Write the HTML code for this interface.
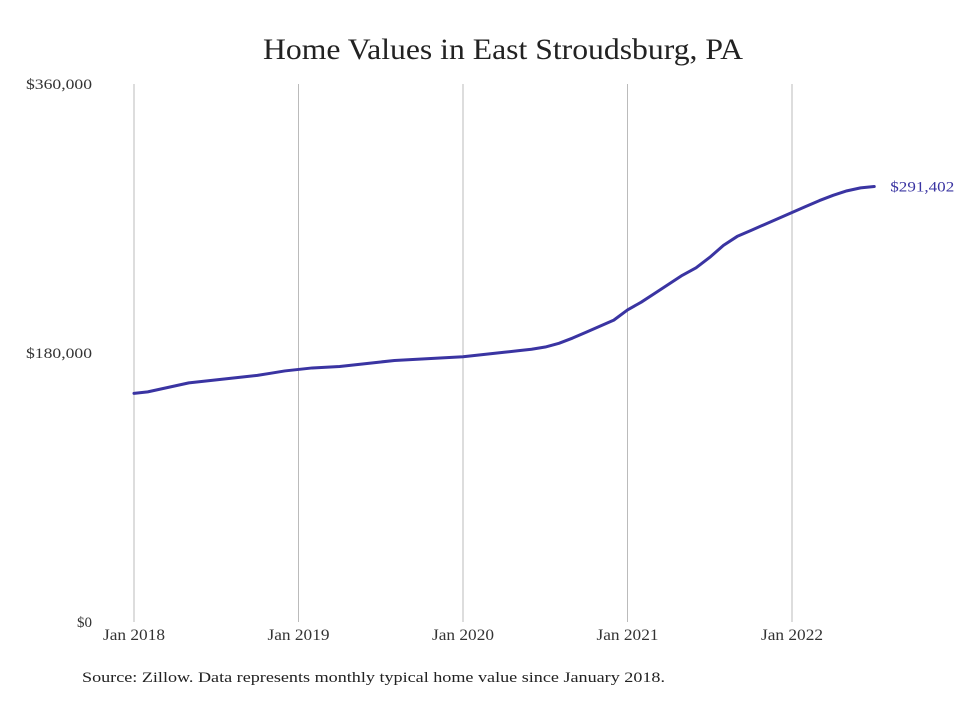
<!DOCTYPE html>
<html><head><meta charset="utf-8"><style>
body{margin:0;background:#fff;width:980px;height:699px;overflow:hidden;font-family:"Liberation Serif",serif;}
</style></head><body>
<svg width="980" height="699">
<text x="503" y="59" text-anchor="middle" font-size="30" textLength="480" lengthAdjust="spacingAndGlyphs" fill="#222">Home Values in East Stroudsburg, PA</text>
<g id="grid"></g><g id="yaxis"></g><g id="xaxis"></g><g id="series"></g>
<text x="82" y="682" font-size="15" textLength="583" lengthAdjust="spacingAndGlyphs" fill="#222">Source: Zillow. Data represents monthly typical home value since January 2018.</text>
</svg>
<script>
const xLabels=["Jan 2018","Jan 2019","Jan 2020","Jan 2021","Jan 2022"];
const yTicks=[0,180000,360000];
const yTickLabels=["$0","$180,000","$360,000"];
const values=[153,154,156,158,160,161,162,163,164,165,166.5,168,
169,170,170.5,171,172,173,174,175,175.5,176,176.5,177,
177.5,178.5,179.5,180.5,181.5,182.5,184,186.5,190,194,198,202,
208.8,214,220,226,232,237,244,252,258,262,266,270,
274,278,282,285.5,288.5,290.5,291.402].map(v=>v*1000);
const lastLabel="$291,402";
const NS="http://www.w3.org/2000/svg";
const x0=134,monthW=(792-134)/48,yTop=84,yBot=622,yMax=360000;
const X=i=>x0+i*monthW;
const Y=v=>yBot-v/yMax*(yBot-yTop);
function mk(t,a,p){const e=document.createElementNS(NS,t);for(const k in a)e.setAttribute(k,a[k]);p.appendChild(e);return e;}
const grid=document.getElementById('grid'),ya=document.getElementById('yaxis'),xa=document.getElementById('xaxis'),se=document.getElementById('series');
xLabels.forEach((l,i)=>{
 const g=mk('line',{x1:X(i*12),x2:X(i*12),y1:yTop,y2:yBot,stroke:'#bbb','stroke-width':1},grid);
 
 
 const t=mk('text',{x:X(i*12),y:640,'text-anchor':'middle','font-size':15.5,textLength:62,lengthAdjust:'spacingAndGlyphs',fill:'#333'},xa);
 t.textContent=l;
 
 
});
yTicks.forEach((v,i)=>{
 const t=mk('text',{x:92,y:Y(v)+5,'text-anchor':'end','font-size':15,fill:'#333'},ya);
 if(i>0){t.setAttribute('textLength',66);t.setAttribute('lengthAdjust','spacingAndGlyphs');}
 t.textContent=yTickLabels[i];
 
 
});
const p=mk('polyline',{points:values.map((v,i)=>X(i)+','+Y(v)).join(' '),fill:'none',stroke:'#3a34a2','stroke-width':3,'stroke-linejoin':'round','stroke-linecap':'round'},se);


const n=values.length-1;
const lt=mk('text',{x:X(n)+16,y:Y(values[n])+5,'font-size':15,textLength:64,lengthAdjust:'spacingAndGlyphs',fill:'#3a34a2'},se);
lt.textContent=lastLabel;


</script>
</body></html>
